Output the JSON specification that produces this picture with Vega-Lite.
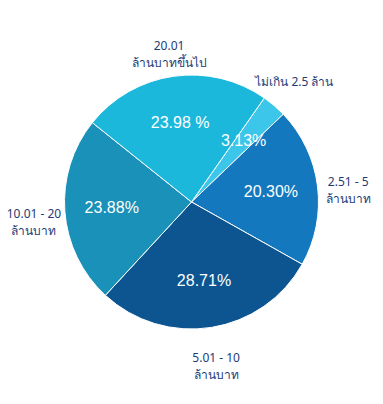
{
  "$schema": "https://vega.github.io/schema/vega-lite/v6.json",
  "width": 383,
  "height": 404,
  "autosize": {"type": "fit", "contains": "padding"},
  "padding": 0,
  "background": "white",
  "view": {"stroke": null},
  "data": {
    "values": [
      {"order": 1, "cat": "ไม่เกิน 2.5 ล้าน", "label": "ไม่เกิน 2.5 ล้าน", "pct": 3.13, "pctText": "3.13%"},
      {"order": 2, "cat": "2.51 - 5 ล้านบาท", "label": "2.51 - 5\nล้านบาท", "pct": 20.30, "pctText": "20.30%"},
      {"order": 3, "cat": "5.01 - 10 ล้านบาท", "label": "5.01 - 10\nล้านบาท", "pct": 28.71, "pctText": "28.71%"},
      {"order": 4, "cat": "10.01 - 20 ล้านบาท", "label": "10.01 - 20\nล้านบาท", "pct": 23.88, "pctText": "23.88%"},
      {"order": 5, "cat": "20.01 ล้านบาทขึ้นไป", "label": "20.01\nล้านบาทขึ้นไป", "pct": 23.98, "pctText": "23.98 %"}
    ]
  },
  "encoding": {
    "theta": {"field": "pct", "type": "quantitative", "stack": true, "scale": {"range": [0.611, 6.894]}},
    "order": {"field": "order", "type": "quantitative", "sort": "ascending"},
    "color": {
      "field": "cat",
      "type": "nominal",
      "legend": null,
      "scale": {
        "domain": ["ไม่เกิน 2.5 ล้าน", "2.51 - 5 ล้านบาท", "5.01 - 10 ล้านบาท", "10.01 - 20 ล้านบาท", "20.01 ล้านบาทขึ้นไป"],
        "range": ["#3cc6ea", "#1478be", "#0c5591", "#1a91b8", "#1cb8dc"]
      }
    }
  },
  "layer": [
    {"mark": {"type": "arc", "outerRadius": 127, "stroke": "white", "strokeWidth": 1}},
    {
      "mark": {"type": "text", "radius": 80, "fontSize": 16, "font": "Liberation Sans, sans-serif"},
      "encoding": {"text": {"field": "pctText"}, "color": {"value": "white"}}
    },
    {
      "mark": {"type": "text", "radius": 158, "fontSize": 12, "lineBreak": "\n", "lineHeight": 17, "font": "Noto Sans, Liberation Sans, sans-serif"},
      "encoding": {"text": {"field": "label"}, "color": {"value": "#1d3c78"}}
    }
  ]
}
